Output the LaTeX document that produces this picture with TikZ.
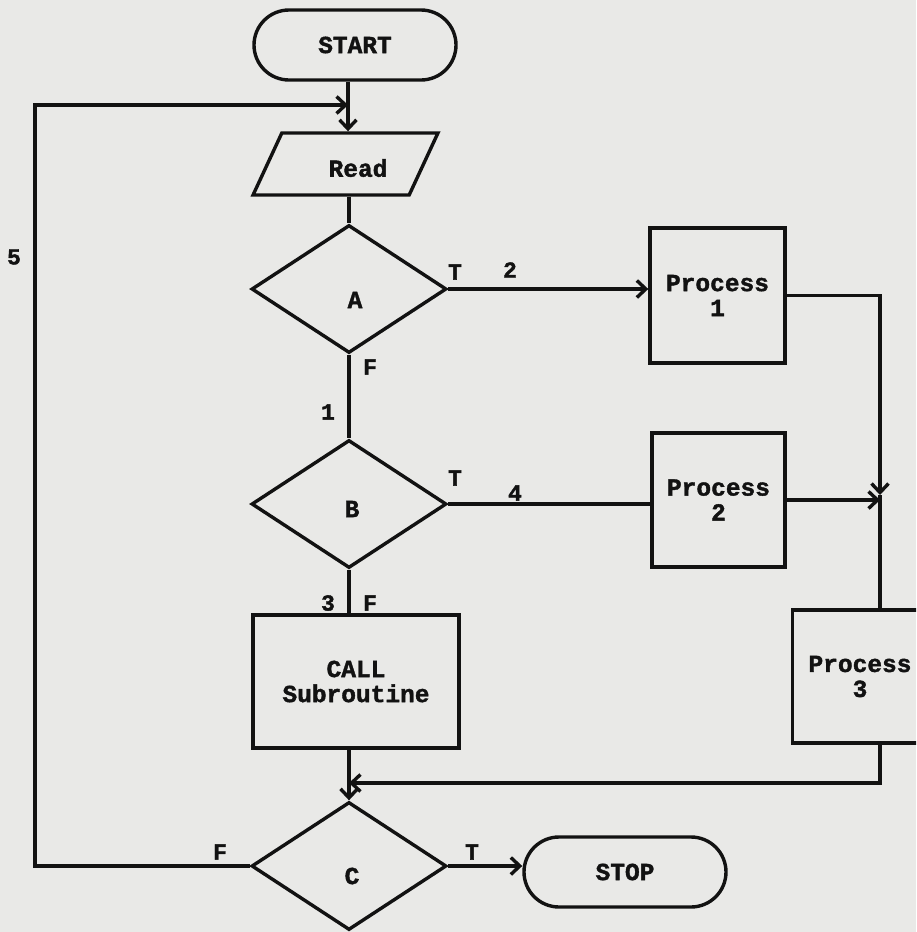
\documentclass[tikz,border=0pt]{standalone}
\usepackage{fontspec}
\setmonofont{Liberation Mono}[BoldFeatures={FakeBold=1.6}]
\usetikzlibrary{shapes.geometric,shapes.misc,arrows.meta}
\definecolor{paper}{RGB}{233,233,231}
\definecolor{ink}{RGB}{18,18,18}
\begin{document}
\begin{tikzpicture}[x=1pt,y=-1pt,
  txt/.style={text=ink,font=\ttfamily\bfseries\fontsize{24.5}{25}\selectfont,align=center},
  lbl/.style={text=ink,font=\ttfamily\bfseries\fontsize{23}{24}\selectfont,inner sep=0pt},
  shp/.style={draw=ink,line width=3.4pt,inner sep=2pt,txt},
  procbox/.style={shp,rectangle,minimum width=135pt,minimum height=135pt},
  term/.style={shp,rounded rectangle,minimum width=206pt,minimum height=70pt},
  decision/.style={shp,diamond,minimum width=195pt,minimum height=128pt},
  iobox/.style={shp,trapezium,trapezium left angle=76,trapezium right angle=104,
    trapezium stretches=true,minimum width=185pt,minimum height=62pt},
  conn/.style={draw=ink,line width=3.4pt},
  arr/.style={conn,-{Straight Barb[length=9pt,width=17pt]}}]
\useasboundingbox (0,0) rectangle (916,932);
\clip (0,0) rectangle (916,932);
\fill[paper] (0,0) rectangle (916,932);

% nodes
\node[term] (start) at (355,45) {START};
\node[iobox] (read) at (345.5,164) {\phantom{x}};
\node[txt] (readtxt) at (358,168) {Read};
\node[decision] (A) at (349,289) {\phantom{x}};
\node[txt] (Atxt) at (355,300) {A};
\node[decision] (B) at (349,504) {\phantom{x}};
\node[txt] (Btxt) at (352,509) {B};
\node[procbox,minimum width=206pt,minimum height=133pt] (call) at (356,681.5) {CALL\\Subroutine};
\node[decision] (C) at (349,866) {\phantom{x}};
\node[txt] (Ctxt) at (352,876) {C};
\node[term] (stop) at (625,872) {STOP};
\node[procbox] (p1) at (717.5,295.5) {Process\\1};
\node[procbox,minimum width=133pt,minimum height=134pt] (p2) at (718.5,500) {Process\\2};
\node[procbox,minimum height=133pt] (p3) at (860,676.5) {Process\\3};

% helper coordinates
\coordinate (lx) at (35,0);
\coordinate (rx) at (880,0);
\coordinate (j1) at (348,105);
\coordinate (j2) at (349,783);
\coordinate (j3) at (880,495);

% connectors
\draw[arr] (start.south -| j1) -- (read.north -| j1);
\draw[arr] (C.west) -- (C.west -| lx) -- (lx |- j1) -- (j1);
\draw[conn] (read.south -| A.north) -- (A.north);
\draw[arr] (A.east) -- (A.east -| p1.west);
\draw[conn] (A.south) -- (B.north);
\draw[conn] (B.east) -- (B.east -| p2.west);
\draw[conn] (B.south) -- (B.south |- call.north);
\draw[arr] (call.south -| C.north) -- (C.north);
\draw[arr] (p1.east) -- (p1.east -| rx) -- (j3);
\draw[conn] (j3) -- (p3.north -| rx);
\draw[arr] (p2.east) -- (p2.east -| rx);
\draw[arr] (p3.south -| rx) -- (rx |- j2) -- (j2);
\draw[arr] (C.east) -- (C.east -| stop.west);

% labels
\node[lbl] (l5) at (14,257) {5};
\node[lbl] (lAT) at (455,272) {T};
\node[lbl] (l2) at (510,270) {2};
\node[lbl] (lAF) at (370,367) {F};
\node[lbl] (l1) at (328,412) {1};
\node[lbl] (lBT) at (455,478) {T};
\node[lbl] (l4) at (515,493) {4};
\node[lbl] (l3) at (328,603) {3};
\node[lbl] (lBF) at (370,603) {F};
\node[lbl] (lCF) at (220,852) {F};
\node[lbl] (lCT) at (472,852) {T};
\end{tikzpicture}
\end{document}
